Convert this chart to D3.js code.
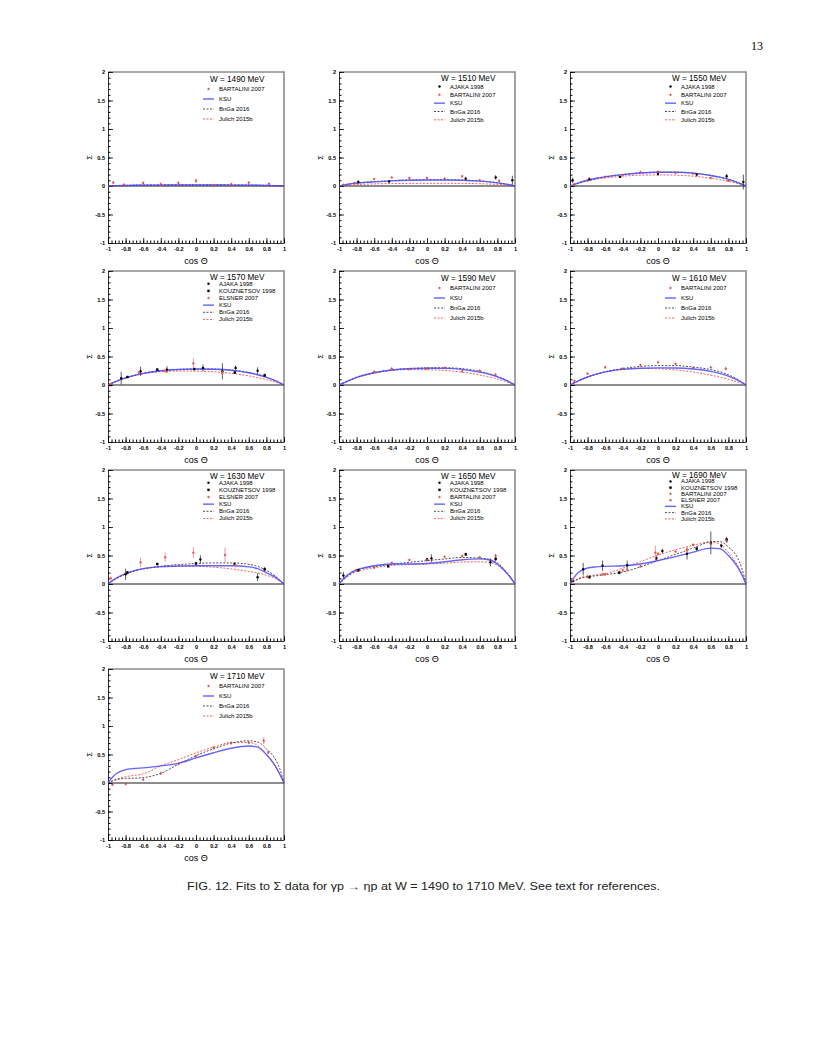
<!DOCTYPE html>
<html>
<head>
<meta charset="utf-8">
<script src="https://cdn.jsdelivr.net/npm/d3@7"></script>
<style>
  body { margin: 0; background: #fff; }
  svg { display: block; }
</style>
</head>
<body>
<div id="page"></div>
<script>
// values: Sigma vs cos(theta), W = 1490..1710 MeV
var energies = [1490, 1510, 1550, 1570, 1590, 1610, 1630, 1650, 1690, 1710];
var cosGrid = [-1, -0.95, -0.9, -0.8, -0.7, -0.6, -0.4, -0.2, 0, 0.2, 0.4, 0.6, 0.7, 0.8, 0.9, 0.95, 1];
var xTicks = [-1, -0.8, -0.6, -0.4, -0.2, 0, 0.2, 0.4, 0.6, 0.8, 1];
var yTicks = [-1, -0.5, 0, 0.5, 1, 1.5, 2];

// model curves on cosGrid
var ksu1490 = [0, 0.003, 0.006, 0.01, 0.012, 0.014, 0.016, 0.017, 0.017, 0.017, 0.016, 0.014, 0.012, 0.01, 0.006, 0.003, 0];
var bnga1490 = [0, 0.004, 0.008, 0.012, 0.015, 0.017, 0.019, 0.02, 0.02, 0.02, 0.019, 0.017, 0.015, 0.012, 0.007, 0.004, 0];
var julich1490 = [0, 0.002, 0.004, 0.007, 0.009, 0.01, 0.011, 0.012, 0.012, 0.012, 0.011, 0.01, 0.009, 0.007, 0.004, 0.002, 0];

var ksu1510 = [0, 0.015, 0.03, 0.05, 0.063, 0.073, 0.09, 0.1, 0.105, 0.105, 0.1, 0.085, 0.072, 0.055, 0.032, 0.017, 0];
var bnga1510 = [0, 0.016, 0.031, 0.052, 0.066, 0.076, 0.094, 0.104, 0.109, 0.109, 0.104, 0.088, 0.075, 0.057, 0.033, 0.018, 0];
var julich1510 = [0, 0.008, 0.015, 0.025, 0.032, 0.037, 0.043, 0.046, 0.047, 0.047, 0.045, 0.04, 0.035, 0.028, 0.016, 0.008, 0];

var ksu1550 = [0, 0.03, 0.055, 0.1, 0.135, 0.16, 0.2, 0.227, 0.24, 0.24, 0.225, 0.185, 0.155, 0.115, 0.065, 0.035, 0];
var bnga1550 = [0, 0.03, 0.057, 0.1, 0.137, 0.163, 0.203, 0.23, 0.243, 0.242, 0.226, 0.186, 0.157, 0.117, 0.066, 0.035, 0];
var julich1550 = [0, 0.025, 0.048, 0.088, 0.12, 0.142, 0.172, 0.19, 0.195, 0.19, 0.172, 0.137, 0.113, 0.082, 0.045, 0.023, 0];

var ksu1570 = [0, 0.035, 0.068, 0.125, 0.17, 0.205, 0.25, 0.272, 0.28, 0.277, 0.26, 0.215, 0.18, 0.135, 0.075, 0.04, 0];
var bnga1570 = [0, 0.035, 0.068, 0.125, 0.17, 0.205, 0.25, 0.273, 0.282, 0.28, 0.263, 0.218, 0.183, 0.137, 0.077, 0.04, 0];
var julich1570 = [0, 0.033, 0.065, 0.12, 0.162, 0.195, 0.233, 0.245, 0.243, 0.232, 0.205, 0.16, 0.13, 0.095, 0.052, 0.027, 0];

var ksu1590 = [0, 0.035, 0.07, 0.135, 0.18, 0.215, 0.262, 0.285, 0.293, 0.292, 0.275, 0.225, 0.19, 0.142, 0.08, 0.042, 0];
var bnga1590 = [0, 0.035, 0.07, 0.135, 0.18, 0.216, 0.264, 0.29, 0.3, 0.302, 0.287, 0.238, 0.2, 0.15, 0.085, 0.045, 0];
var julich1590 = [0, 0.035, 0.068, 0.13, 0.175, 0.21, 0.255, 0.27, 0.268, 0.255, 0.225, 0.175, 0.143, 0.105, 0.058, 0.03, 0];

var ksu1610 = [0, 0.04, 0.075, 0.14, 0.19, 0.23, 0.275, 0.295, 0.3, 0.297, 0.28, 0.24, 0.205, 0.155, 0.09, 0.048, 0];
var bnga1610 = [0, 0.04, 0.075, 0.14, 0.19, 0.232, 0.29, 0.325, 0.34, 0.34, 0.315, 0.27, 0.235, 0.18, 0.105, 0.055, 0];
var julich1610 = [0, 0.04, 0.075, 0.14, 0.188, 0.228, 0.275, 0.29, 0.285, 0.265, 0.228, 0.172, 0.14, 0.1, 0.055, 0.028, 0];

var ksu1630 = [0, 0.06, 0.11, 0.18, 0.235, 0.27, 0.305, 0.317, 0.32, 0.32, 0.32, 0.3, 0.27, 0.2, 0.12, 0.065, 0];
var bnga1630 = [0, 0.055, 0.1, 0.175, 0.23, 0.265, 0.31, 0.34, 0.36, 0.37, 0.37, 0.345, 0.31, 0.24, 0.14, 0.075, 0];
var julich1630 = [0, 0.055, 0.1, 0.175, 0.23, 0.265, 0.3, 0.31, 0.31, 0.295, 0.265, 0.22, 0.195, 0.155, 0.095, 0.05, 0];

var ksu1650 = [0, 0.09, 0.16, 0.25, 0.29, 0.32, 0.35, 0.352, 0.36, 0.39, 0.425, 0.44, 0.425, 0.35, 0.2, 0.11, 0];
var bnga1650 = [0, 0.08, 0.145, 0.24, 0.28, 0.305, 0.345, 0.38, 0.41, 0.44, 0.465, 0.455, 0.435, 0.37, 0.22, 0.12, 0];
var julich1650 = [0, 0.07, 0.13, 0.215, 0.255, 0.285, 0.325, 0.34, 0.35, 0.365, 0.385, 0.39, 0.38, 0.33, 0.2, 0.11, 0];

var ksu1690 = [0, 0.12, 0.21, 0.28, 0.3, 0.31, 0.32, 0.35, 0.41, 0.48, 0.56, 0.63, 0.62, 0.5, 0.31, 0.17, 0];
var bnga1690 = [0, 0.05, 0.09, 0.125, 0.145, 0.163, 0.21, 0.3, 0.41, 0.52, 0.63, 0.74, 0.745, 0.65, 0.47, 0.29, 0];
var julich1690 = [0, 0.055, 0.1, 0.14, 0.16, 0.18, 0.28, 0.39, 0.51, 0.6, 0.68, 0.74, 0.7, 0.55, 0.34, 0.19, 0];

var ksu1710 = [0, 0.1, 0.17, 0.235, 0.255, 0.265, 0.3, 0.345, 0.44, 0.53, 0.61, 0.65, 0.63, 0.5, 0.3, 0.16, 0];
var bnga1710 = [0, 0.035, 0.06, 0.08, 0.085, 0.095, 0.17, 0.33, 0.48, 0.6, 0.7, 0.74, 0.72, 0.6, 0.42, 0.26, 0];
var julich1710 = [0, 0.04, 0.07, 0.11, 0.135, 0.16, 0.3, 0.41, 0.53, 0.63, 0.71, 0.71, 0.66, 0.5, 0.3, 0.16, 0];

// measured points: [cos, sigma, error]
var bart1490 = [[-0.94, 0.06, 0.03], [-0.82, 0.02, 0.03], [-0.6, 0.05, 0.03], [-0.4, 0.03, 0.03], [-0.2, 0.05, 0.03], [0, 0.09, 0.04], [0.2, 0.01, 0.03], [0.4, 0.03, 0.03], [0.6, 0.06, 0.02], [0.83, 0.04, 0.02]];

var ajaka1510 = [[-0.78, 0.07, 0.03], [-0.43, 0.08, 0.02], [0.44, 0.13, 0.03], [0.78, 0.15, 0.04], [0.97, 0.1, 0.08]];
var bart1510 = [[-0.95, 0.02, 0.02], [-0.82, 0.05, 0.02], [-0.6, 0.12, 0.02], [-0.4, 0.15, 0.02], [-0.2, 0.14, 0.02], [0, 0.14, 0.02], [0.2, 0.13, 0.02], [0.4, 0.17, 0.02], [0.6, 0.1, 0.02], [0.82, 0.09, 0.02]];

var ajaka1550 = [[-0.97, 0.1, 0.05], [-0.78, 0.12, 0.03], [-0.43, 0.16, 0.02], [0, 0.21, 0.03], [0.44, 0.2, 0.03], [0.78, 0.17, 0.04], [0.97, 0.07, 0.13]];
var bart1550 = [[-0.95, 0.03, 0.02], [-0.8, 0.1, 0.02], [-0.6, 0.16, 0.02], [-0.4, 0.19, 0.02], [-0.2, 0.24, 0.02], [0, 0.25, 0.02], [0.2, 0.23, 0.02], [0.4, 0.22, 0.02], [0.6, 0.14, 0.02], [0.8, 0.09, 0.02]];

var ajaka1570 = [[-0.85, 0.12, 0.11], [-0.63, 0.24, 0.08], [-0.33, 0.27, 0.06], [0.08, 0.3, 0.06], [0.3, 0.24, 0.14], [0.45, 0.3, 0.04], [0.7, 0.25, 0.06]];
var kouz1570 = [[-0.97, 0.0, 0.02], [-0.78, 0.14, 0.02], [-0.44, 0.27, 0.02], [-0.02, 0.28, 0.02], [0.44, 0.22, 0.02], [0.78, 0.17, 0.03]];
var elsner1570 = [[-0.97, 0.02, 0.02], [-0.65, 0.22, 0.03], [-0.35, 0.25, 0.04], [-0.03, 0.38, 0.09], [0.3, 0.2, 0.05]];

var bart1590 = [[-0.6, 0.23, 0.02], [-0.4, 0.29, 0.02], [-0.2, 0.28, 0.02], [0, 0.29, 0.02], [0.2, 0.3, 0.02], [0.4, 0.24, 0.02], [0.6, 0.25, 0.02], [0.78, 0.18, 0.03]];

var bart1610 = [[-0.95, 0.07, 0.02], [-0.8, 0.2, 0.02], [-0.6, 0.31, 0.02], [-0.4, 0.29, 0.02], [-0.2, 0.35, 0.02], [0, 0.4, 0.02], [0.2, 0.37, 0.02], [0.4, 0.3, 0.02], [0.6, 0.31, 0.02], [0.77, 0.29, 0.03]];

var ajaka1630 = [[-0.8, 0.17, 0.1], [0.05, 0.43, 0.07], [0.7, 0.12, 0.07]];
var kouz1630 = [[-0.78, 0.2, 0.03], [-0.44, 0.35, 0.02], [0, 0.36, 0.03], [0.44, 0.35, 0.03], [0.78, 0.26, 0.04]];
var elsner1630 = [[-0.97, 0.1, 0.03], [-0.63, 0.38, 0.08], [-0.35, 0.47, 0.08], [-0.03, 0.55, 0.1], [0.33, 0.51, 0.13], [0.45, 0.33, 0.04]];

var ajaka1650 = [[-0.95, 0.15, 0.06], [0.05, 0.45, 0.07], [0.72, 0.38, 0.07]];
var kouz1650 = [[-0.78, 0.24, 0.02], [-0.44, 0.31, 0.02], [0, 0.43, 0.03], [0.44, 0.52, 0.03], [0.78, 0.44, 0.04]];
var bart1650 = [[-0.8, 0.24, 0.02], [-0.6, 0.29, 0.02], [-0.4, 0.37, 0.02], [-0.2, 0.42, 0.02], [0, 0.42, 0.02], [0.2, 0.48, 0.02], [0.4, 0.49, 0.02], [0.6, 0.47, 0.02], [0.78, 0.5, 0.03]];

var ajaka1690 = [[-0.85, 0.26, 0.11], [-0.63, 0.32, 0.09], [-0.35, 0.33, 0.08], [0.05, 0.58, 0.04], [0.33, 0.53, 0.1], [0.6, 0.72, 0.2], [0.72, 0.67, 0.04]];
var kouz1690 = [[-0.97, 0.06, 0.03], [-0.78, 0.12, 0.03], [-0.44, 0.2, 0.03], [-0.02, 0.45, 0.04], [0.44, 0.62, 0.04], [0.78, 0.78, 0.05]];
var bart1690 = [[-0.8, 0.13, 0.02], [-0.6, 0.17, 0.02], [-0.4, 0.24, 0.02], [-0.2, 0.31, 0.02], [0, 0.53, 0.03], [0.2, 0.57, 0.02], [0.4, 0.69, 0.02], [0.6, 0.7, 0.03], [0.78, 0.75, 0.03]];
var elsner1690 = [[-0.97, 0.08, 0.03], [-0.63, 0.17, 0.03], [-0.35, 0.25, 0.05], [-0.03, 0.55, 0.12], [0.33, 0.6, 0.06]];

var bart1710 = [[-0.95, -0.03, 0.02], [-0.8, -0.02, 0.02], [-0.6, 0.06, 0.02], [-0.4, 0.17, 0.03], [-0.2, 0.34, 0.03], [0, 0.47, 0.03], [0.2, 0.62, 0.03], [0.4, 0.7, 0.03], [0.6, 0.71, 0.03], [0.77, 0.74, 0.06], [0.82, 0.54, 0.03]];

// panel table built from the arrays above
var panels = [
  { w: energies[0], sets: [['BARTALINI 2007', bart1490]], ksu: ksu1490, bnga: bnga1490, julich: julich1490 },
  { w: energies[1], sets: [['AJAKA 1998', ajaka1510], ['BARTALINI 2007', bart1510]], ksu: ksu1510, bnga: bnga1510, julich: julich1510 },
  { w: energies[2], sets: [['AJAKA 1998', ajaka1550], ['BARTALINI 2007', bart1550]], ksu: ksu1550, bnga: bnga1550, julich: julich1550 },
  { w: energies[3], sets: [['AJAKA 1998', ajaka1570], ['KOUZNETSOV 1998', kouz1570], ['ELSNER 2007', elsner1570]], ksu: ksu1570, bnga: bnga1570, julich: julich1570 },
  { w: energies[4], sets: [['BARTALINI 2007', bart1590]], ksu: ksu1590, bnga: bnga1590, julich: julich1590 },
  { w: energies[5], sets: [['BARTALINI 2007', bart1610]], ksu: ksu1610, bnga: bnga1610, julich: julich1610 },
  { w: energies[6], sets: [['AJAKA 1998', ajaka1630], ['KOUZNETSOV 1998', kouz1630], ['ELSNER 2007', elsner1630]], ksu: ksu1630, bnga: bnga1630, julich: julich1630 },
  { w: energies[7], sets: [['AJAKA 1998', ajaka1650], ['KOUZNETSOV 1998', kouz1650], ['BARTALINI 2007', bart1650]], ksu: ksu1650, bnga: bnga1650, julich: julich1650 },
  { w: energies[8], sets: [['AJAKA 1998', ajaka1690], ['KOUZNETSOV 1998', kouz1690], ['BARTALINI 2007', bart1690], ['ELSNER 2007', elsner1690]], ksu: ksu1690, bnga: bnga1690, julich: julich1690 },
  { w: energies[9], sets: [['BARTALINI 2007', bart1710]], ksu: ksu1710, bnga: bnga1710, julich: julich1710 }
];

// styles
var markerStyle = {
  'AJAKA 1998': { shape: 'circle', fill: '#000', bar: '#333' },
  'KOUZNETSOV 1998': { shape: 'square', fill: '#000', bar: '#333' },
  'BARTALINI 2007': { shape: 'star', fill: '#e43b3b', bar: '#e06a6a' },
  'ELSNER 2007': { shape: 'circle', fill: '#f25c5c', bar: '#e88080' }
};
var curveStyle = {
  ksu: { label: 'KSU', color: '#4a4aff', width: 1.4, dash: null },
  bnga: { label: 'BnGa 2016', color: '#222', width: 0.8, dash: '2,1.5' },
  julich: { label: 'Julich 2015b', color: '#f03a3a', width: 0.8, dash: '2,1.5' }
};

var colX = [108, 339, 570];
var rowY = [72, 271, 470, 669];
var frameW = 176;
var frameH = 171;
var fontSans = 'Liberation Sans, Arial, sans-serif';

var svg = d3.select('#page').append('svg')
  .attr('width', 816)
  .attr('height', 1056)
  .style('background-color', '#fff');

// page number
svg.append('text')
  .attr('x', 763)
  .attr('y', 50)
  .attr('text-anchor', 'end')
  .style('font-family', 'Liberation Serif, DejaVu Serif, serif')
  .style('font-size', '12px')
  .text('13');

panels.forEach(function (p, i) {
  var g = svg.append('g')
    .attr('transform', 'translate(' + colX[i % 3] + ',' + rowY[Math.floor(i / 3)] + ')');
  drawPanel(g, p);
});

// caption
svg.append('text')
  .attr('x', 187)
  .attr('y', 890)
  .attr('textLength', 473)
  .attr('lengthAdjust', 'spacingAndGlyphs')
  .style('font-family', fontSans)
  .style('font-size', '10px')
  .style('fill', '#222')
  .text('FIG. 12. Fits to \u03A3 data for \u03B3p \u2192 \u03B7p at W = 1490 to 1710 MeV. See text for references.');

function drawMarker(sel, shape, color, cx, cy) {
  if (shape === 'square') {
    sel.append('rect')
      .attr('x', cx - 1.2).attr('y', cy - 1.2)
      .attr('width', 2.4).attr('height', 2.4)
      .style('fill', color);
  } else if (shape === 'star') {
    sel.append('path')
      .attr('transform', 'translate(' + cx + ',' + cy + ')')
      .attr('d', d3.symbol().type(d3.symbolStar).size(3.5)())
      .style('fill', color);
  } else {
    sel.append('circle')
      .attr('cx', cx).attr('cy', cy).attr('r', 1.2)
      .style('fill', color);
  }
}

function drawPanel(g, p) {
  var x = d3.scaleLinear().domain([-1, 1]).range([0, frameW]);
  var y = d3.scaleLinear().domain([-1, 2]).range([frameH, 0]);

  // frame: grey top/right edges
  g.append('path')
    .attr('d', 'M0,0H' + frameW + 'V' + frameH)
    .style('fill', 'none')
    .style('stroke', '#8c8c8c')
    .style('stroke-width', 1.6);

  // minor ticks
  var xMinor = d3.range(-1, 1.0001, 0.04).map(function (v) { return +v.toFixed(2); });
  var yMinor = d3.range(-1, 2.0001, 0.1).map(function (v) { return +v.toFixed(2); });
  g.append('g')
    .attr('transform', 'translate(0,' + frameH + ')')
    .call(d3.axisBottom(x).tickValues(xMinor).tickSize(-2.5).tickSizeOuter(0).tickFormat(''))
    .call(function (a) { a.select('.domain').remove(); });
  g.append('g')
    .call(d3.axisLeft(y).tickValues(yMinor).tickSize(-2.5).tickSizeOuter(0).tickFormat(''))
    .call(function (a) { a.select('.domain').remove(); });

  // major axes
  var xAxis = g.append('g')
    .attr('transform', 'translate(0,' + frameH + ')')
    .call(d3.axisBottom(x).tickValues(xTicks).tickSize(-5).tickSizeOuter(0).tickPadding(3)
      .tickFormat(function (d) { return String(d); }));
  var yAxis = g.append('g')
    .call(d3.axisLeft(y).tickValues(yTicks).tickSize(-5).tickSizeOuter(0).tickPadding(3)
      .tickFormat(function (d) { return String(d); }));
  [xAxis, yAxis].forEach(function (a) {
    a.attr('font-family', fontSans).attr('font-size', 5.6);
    a.selectAll('text').style('fill', '#000').style('font-weight', 'bold');
    a.selectAll('line, path').style('stroke', '#000').style('stroke-width', 0.8);
  });
  xAxis.selectAll('text').attr('dy', '0.9em');

  // zero line
  g.append('line')
    .attr('x1', 0).attr('x2', frameW)
    .attr('y1', y(0)).attr('y2', y(0))
    .style('stroke', '#000')
    .style('stroke-width', 0.9);

  // axis titles
  g.append('text')
    .attr('transform', 'translate(-16,' + y(0.5) + ') rotate(-90)')
    .attr('text-anchor', 'middle')
    .style('font-family', fontSans)
    .style('font-size', '7.5px')
    .text('\u03A3');
  g.append('text')
    .attr('x', x(0))
    .attr('y', frameH + 21)
    .attr('text-anchor', 'middle')
    .style('font-family', fontSans)
    .style('font-size', '9px')
    .text('cos \u0398');

  // model curves
  ['julich', 'bnga', 'ksu'].forEach(function (key) {
    var st = curveStyle[key];
    var line = d3.line()
      .x(function (d, k) { return x(cosGrid[k]); })
      .y(function (d) { return y(d); })
      .curve(d3.curveMonotoneX);
    g.append('path')
      .attr('d', line(p[key]))
      .style('fill', 'none')
      .style('stroke', st.color)
      .style('stroke-width', st.width)
      .style('stroke-dasharray', st.dash)
      .style('opacity', key === 'ksu' ? 0.85 : 1);
  });

  // data points with error bars
  p.sets.forEach(function (s) {
    var ms = markerStyle[s[0]];
    var pts = g.append('g').attr('class', 'pts');
    s[1].forEach(function (d) {
      pts.append('line')
        .attr('x1', x(d[0])).attr('x2', x(d[0]))
        .attr('y1', y(d[1] - d[2])).attr('y2', y(d[1] + d[2]))
        .style('stroke', ms.bar)
        .style('stroke-width', 0.8);
      drawMarker(pts, ms.shape, ms.fill, x(d[0]), y(d[1]));
    });
  });

  // legend
  var entries = p.sets.map(function (s) { return { label: s[0], marker: s[0] }; })
    .concat(['ksu', 'bnga', 'julich'].map(function (k) { return { label: curveStyle[k].label, curve: k }; }));
  var step = 50 / (entries.length + 1);
  var leg = g.append('g').attr('class', 'legend');
  leg.append('text')
    .attr('x', 102)
    .attr('y', 2 + step * 0.5 + 3)
    .style('font-family', fontSans)
    .style('font-size', '8.2px')
    .text('W = ' + p.w + ' MeV');
  entries.forEach(function (e, k) {
    var cy = 2 + step * (k + 1.5);
    if (e.curve) {
      var st = curveStyle[e.curve];
      leg.append('line')
        .attr('x1', 95).attr('x2', 106)
        .attr('y1', cy).attr('y2', cy)
        .style('stroke', st.color)
        .style('stroke-width', st.width)
        .style('stroke-dasharray', st.dash)
        .style('opacity', e.curve === 'ksu' ? 0.85 : 1);
    } else {
      var ms = markerStyle[e.marker];
      drawMarker(leg, ms.shape, ms.fill, 100.5, cy);
    }
    leg.append('text')
      .attr('x', 111)
      .attr('y', cy + 2)
      .style('font-family', fontSans)
      .style('font-size', '6px')
      .text(e.label);
  });
}
</script>
</body>
</html>
